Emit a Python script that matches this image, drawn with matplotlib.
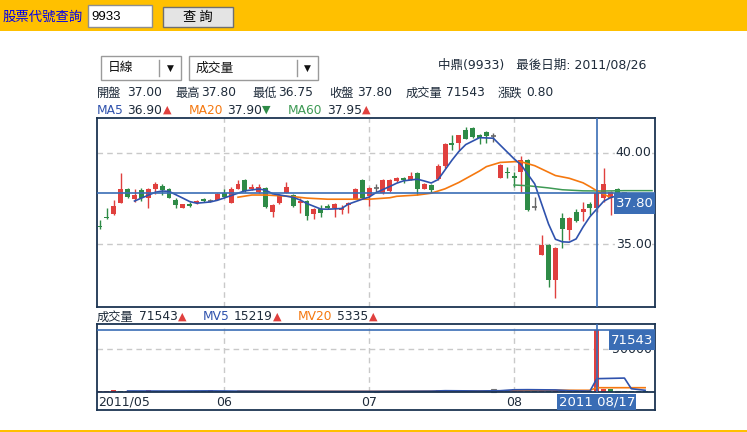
import matplotlib
matplotlib.use("Agg")
import numpy as np
import matplotlib.pyplot as plt
from matplotlib.patches import Rectangle
from matplotlib.transforms import blended_transform_factory as blend

plt.rcParams['font.family'] = ['DejaVu Sans', 'Noto Sans CJK TC']

# ------------------------------------------------------------
# Daily candles, index 0 = first day shown
# ------------------------------------------------------------
opens = [36.00, 36.50, 36.65, 37.25, 38.00, 37.45, 37.95, 37.50, 38.00, 38.20,
         38.00, 37.40, 37.00, 37.20, 37.25, 37.45, 37.35, 37.40, 37.80, 37.25,
         38.00, 38.50, 38.00, 37.85, 38.10, 36.75, 37.25, 37.80, 37.70, 37.25,
         37.35, 36.65, 36.90, 37.10, 37.00, 36.85, 37.15, 37.45, 38.50, 37.65,
         38.10, 37.80, 37.90, 38.45, 38.65, 38.50, 38.90, 38.00, 38.25, 38.55,
         39.30, 40.55, 40.55, 41.25, 41.35, 41.00, 41.15, 40.95, 38.65, 38.95,
         38.75, 38.95, 39.60, 37.05, 34.40, 34.95, 33.00, 36.45, 35.75, 36.75,
         36.75, 37.20, 37.00, 37.55, 37.55, 38.00, 37.80]
highs = [36.30, 37.00, 37.40, 38.90, 38.10, 38.00, 38.05, 38.05, 38.40, 38.30,
         38.10, 37.50, 37.20, 37.30, 37.40, 37.50, 37.45, 37.80, 38.00, 38.15,
         38.50, 38.55, 38.30, 38.30, 38.15, 37.20, 37.75, 38.40, 37.75, 37.50,
         37.40, 36.95, 37.15, 37.20, 37.25, 37.15, 37.30, 38.05, 38.55, 38.15,
         38.30, 38.55, 38.55, 38.70, 38.70, 38.95, 38.95, 38.35, 38.30, 39.40,
         40.55, 41.00, 41.00, 41.45, 41.40, 41.05, 41.20, 41.10, 39.40, 39.25,
         38.95, 39.85, 39.65, 37.60, 35.50, 35.00, 34.85, 36.70, 36.50, 36.90,
         37.30, 37.30, 37.80, 39.15, 37.90, 38.05, 37.85]
lows = [35.85, 36.35, 36.60, 37.25, 37.50, 37.30, 37.35, 37.00, 37.75, 37.70,
        37.50, 37.00, 37.00, 37.05, 37.20, 37.30, 37.30, 37.40, 37.50, 37.25,
        38.00, 37.85, 37.95, 37.80, 37.00, 36.50, 37.20, 37.80, 37.05, 36.70,
        36.30, 36.35, 36.50, 36.90, 36.50, 36.65, 36.70, 37.45, 37.50, 37.10,
        37.85, 37.75, 37.85, 38.40, 38.35, 38.50, 37.70, 38.00, 37.80, 38.50,
        39.15, 40.15, 40.15, 40.75, 40.80, 40.50, 40.55, 40.60, 38.60, 38.60,
        38.15, 37.85, 36.80, 36.85, 34.40, 32.65, 32.05, 34.80, 35.20, 36.20,
        36.25, 36.60, 36.75, 37.30, 36.60, 37.60, 37.70]
closes = [35.95, 36.45, 37.10, 38.00, 37.60, 37.70, 37.55, 38.00, 38.30, 37.95,
          37.55, 37.15, 37.20, 37.10, 37.35, 37.35, 37.35, 37.75, 37.60, 38.00,
          38.30, 37.90, 38.15, 38.15, 37.05, 37.15, 37.70, 38.15, 37.10, 37.35,
          36.55, 36.90, 36.70, 37.00, 37.20, 37.00, 37.25, 38.00, 37.55, 38.10,
          38.10, 38.50, 38.50, 38.65, 38.50, 38.75, 38.00, 38.30, 37.95, 39.30,
          40.50, 40.45, 41.00, 40.75, 40.85, 40.80, 40.95, 40.95, 39.35, 38.90,
          38.60, 39.60, 36.85, 37.05, 34.95, 33.00, 34.80, 35.85, 36.45, 36.25,
          36.90, 37.00, 37.80, 38.30, 37.85, 37.70, 37.80]

# moving averages as drawn (day index, value)
ma5_days = [5, 8, 9, 10, 12, 13, 14, 16, 17, 19, 20, 21, 23, 24, 25, 27, 28, 29,
            30, 32, 33, 35, 36, 38, 39, 40, 42, 43, 44, 46, 47, 48, 49, 51, 52, 53,
            55, 57, 58, 60, 61, 63, 64, 65, 66, 67, 68, 69, 70, 71, 73, 74, 75]
ma5_vals = [37.36, 37.84, 37.91, 37.89, 37.52, 37.33, 37.24, 37.31, 37.40, 37.66,
            37.79, 37.92, 38.02, 37.96, 37.76, 37.63, 37.56, 37.42, 37.22, 36.92,
            36.91, 36.95, 37.19, 37.46, 37.58, 37.82, 38.16, 38.34, 38.47, 38.56,
            38.46, 38.35, 38.54, 39.60, 40.08, 40.46, 40.84, 40.81, 40.43, 39.68,
            39.36, 38.30, 37.20, 36.10, 35.26, 35.12, 35.10, 35.28, 35.93, 36.50,
            37.35, 37.55, 37.65]
ma20_days = [20, 22, 24, 26, 28, 30, 33, 36, 39, 42, 43, 46, 48, 50, 52, 54, 55,
             56, 58, 60, 61, 63, 65, 66, 68, 70, 71, 72, 74]
ma20_vals = [37.57, 37.69, 37.69, 37.65, 37.60, 37.52, 37.46, 37.46, 37.46, 37.54,
             37.62, 37.69, 37.79, 38.03, 38.38, 38.80, 39.01, 39.25, 39.48, 39.52,
             39.52, 39.30, 38.94, 38.76, 38.61, 38.36, 38.15, 37.92, 37.55]
ma60_days = [60, 62, 65, 67, 70, 73, 76, 80]
ma60_vals = [38.24, 38.20, 38.08, 37.98, 37.92, 37.91, 37.93, 37.93]

# volume (lots), direction: 1 up, -1 down, 0 flat
volume = [1100, 1100, 2300, 1000, 800, 700, 600, 2300, 900, 800,
          700, 900, 800, 1000, 700, 600, 2300, 900, 800, 700,
          600, 700, 800, 600, 700, 600, 700, 500, 1000, 600,
          500, 500, 500, 400, 500, 500, 1000, 600, 700, 500,
          600, 500, 500, 600, 500, 600, 500, 600, 1300, 2300,
          800, 800, 700, 600, 600, 500, 700, 3100, 900, 800,
          3500, 3500, 1200, 1000, 900, 1100, 2000, 900, 800, 700,
          900, 900, 71543, 3600, 3600, 1200, 1500, 1500, 1300, 1300]
vol_dir = [1, 1, 1, -1, 1, -1, -1, 1, 1, -1,
           -1, -1, 1, -1, 1, -1, 1, 1, -1, 1,
           1, -1, 1, 1, -1, 1, 1, 1, -1, 1,
           -1, 1, -1, -1, 1, 1, 1, 1, -1, 1,
           0, 1, 1, 1, -1, 1, -1, 1, -1, 1,
           1, -1, 1, -1, -1, -1, -1, 0, 1, -1,
           1, 1, -1, -1, 1, -1, 1, 1, 1, -1,
           1, -1, 1, 1, -1, 0, -1, -1, -1, -1]
mv5_days = [4, 10, 16, 20, 30, 40, 48, 50, 55, 58, 60, 62, 66, 68, 71, 72, 76, 77, 79]
mv5_vals = [1200, 1100, 1300, 1000, 700, 700, 1000, 1500, 1200, 1500, 2600, 2700,
            2400, 1500, 1100, 15500, 16200, 3800, 2000]
mv20_days = [20, 30, 40, 50, 57, 60, 66, 71, 72, 79]
mv20_vals = [900, 800, 700, 900, 1200, 1500, 2000, 2000, 5000, 5000]

month_days = [18, 39, 60]
month_labels = ["06", "07", "08"]
first_label = "2011/05"
price_ticks = [35, 40]
vol_tick = 50000

cross_day = 72
cross_date = "2011 08/17"
info_labels = ["開盤", "最高", "最低", "收盤", "成交量", "漲跌"]
info_values = ["37.00", "37.80", "36.75", "37.80", "71543", "0.80"]
ma_labels = ["MA5", "MA20", "MA60"]
ma_values = ["36.90", "37.90", "37.95"]
ma_marks = ["▲", "▼", "▲"]
mv_labels = ["成交量", "MV5", "MV20"]
mv_values = ["71543", "15219", "5335"]

# ------------------------------------------------------------
# colours / helpers
# ------------------------------------------------------------
RED, GREEN, GRAY = "#E0403E", "#2E8B47", "#666666"
BLUE, ORANGE, MGREEN = "#2F52AD", "#F5780F", "#3E9A55"
XBLUE = "#3A6DB5"
NAVY = "#1B3452"
TXT = "#1E2B3A"
GRID = "#C9C9C9"

W, H = 747, 432
fig = plt.figure(figsize=(W / 100, H / 100), dpi=100)


def fx(px):
    return px / W


def fy(py):
    return 1 - py / H


def rect_ax(l, t, r, b):
    return [fx(l), fy(b), (r - l) / W, (b - t) / H]


def ftext(x, y, s, **kw):
    kw.setdefault("fontsize", 8.8)
    kw.setdefault("color", TXT)
    kw.setdefault("va", "center")
    fig.text(fx(x), fy(y), s, **kw)


def frect(l, t, r, b, **kw):
    fig.patches.append(Rectangle((fx(l), fy(b)), (r - l) / W, (b - t) / H,
                                 transform=fig.transFigure, **kw))


# ------------------------------------------------------------
# page chrome: search bar, dropdowns, header texts
# ------------------------------------------------------------
frect(0, 0, W, 31, fc="#FFC000", ec="none", zorder=0)
frect(0, 430, W, 432, fc="#FFC000", ec="none", zorder=0)
ftext(3, 17, "股票代號查詢", color="#0000EE", fontsize=9.6,
      family=["Noto Sans CJK TC"])
frect(88, 5, 152, 27, fc="white", ec="#8E8E8E", lw=1)
ftext(91, 16.5, "9933", color="black", fontsize=9.5, family=["Liberation Sans"])
frect(163, 7, 233, 27, fc="#E4E4E4", ec="#6F6F6F", lw=1)
ftext(198, 17, "查 詢", color="black", fontsize=9.6, ha="center",
      family=["Noto Sans CJK TC"])

for (l, r, div, txt) in [(101, 181, 159, "日線"), (189, 318, 297, "成交量")]:
    frect(l, 56, r, 80, fc="white", ec="#9A9A9A", lw=1)
    fig.add_artist(plt.Line2D([fx(div), fx(div)], [fy(60), fy(76)],
                              color="#9A9A9A", lw=1))
    ftext(l + 7, 68, txt, color="#111111", fontsize=9.2)
    ftext((div + r) / 2, 68.5, "▼", color="#111111", fontsize=6.5, ha="center")

ftext(438, 65, "中鼎(9933)   最後日期: 2011/08/26", fontsize=9)

for lab, val, xl, xv in zip(info_labels, info_values,
                            [97, 175, 252, 329, 406, 498],
                            [127, 201, 278, 357, 446, 526]):
    ftext(xl, 93, lab)
    ftext(xv, 93, val)

for lab, val, mk, col, xl, xv, xm in zip(ma_labels, ma_values, ma_marks,
                                          [BLUE, ORANGE, MGREEN],
                                          [97, 189, 288], [127, 227, 327],
                                          [163, 262, 362]):
    ftext(xl, 110, lab, color=col)
    ftext(xv, 110, val)
    ftext(xm, 110, mk, color=RED if mk == "▲" else GREEN, fontsize=8)

for lab, val, col, xl, xv, xm in zip(mv_labels, mv_values,
                                      [TXT, BLUE, ORANGE],
                                      [97, 203, 298], [139, 234, 337],
                                      [178, 273, 369]):
    ftext(xl, 317, lab, color=col)
    ftext(xv, 317, val)
    ftext(xm, 317, "▲", color=RED, fontsize=8)

# ------------------------------------------------------------
# price panel
# ------------------------------------------------------------
XLIM = (-0.435, 80.43)
ax = fig.add_axes(rect_ax(97, 118, 655, 307))
ax.set_xlim(*XLIM)
ax.set_ylim(31.54, 41.92)
ax.set_xticks([])
ax.set_yticks([])
for s in ax.spines.values():
    s.set_color(NAVY)
    s.set_linewidth(1.3)

for d in month_days:
    ax.axvline(d, color=GRID, lw=1, ls=(0, (4, 3)), zorder=0)
for p in price_ticks:
    ax.axhline(p, color=GRID, lw=1, ls=(0, (4, 3)), zorder=0)

days = np.arange(len(closes))
for i, o, hi, lo, c in zip(days, opens, highs, lows, closes):
    col = RED if c > o else (GREEN if c < o else GRAY)
    ax.vlines(i, lo, hi, color=col, lw=1, zorder=2)
    if c == o:
        ax.hlines(c, i - 0.36, i + 0.36, color=col, lw=1.2, zorder=2)
    else:
        ax.bar(i, abs(c - o), bottom=min(o, c), width=0.72, color=col,
               lw=0, zorder=2)

ax.plot(ma60_days, ma60_vals, color=MGREEN, lw=1.1, zorder=3)
ax.plot(ma20_days, ma20_vals, color=ORANGE, lw=1.2, zorder=3)
ax.plot(ma5_days, ma5_vals, color=BLUE, lw=1.2, zorder=3)

ax.axhline(closes[cross_day], color=XBLUE, lw=1.2, zorder=4)
ax.axvline(cross_day, color=XBLUE, lw=1.2, zorder=4)

tr = blend(ax.transAxes, ax.transData)
for p in price_ticks:
    ax.text(0.994, p, f"{p:.2f}", transform=tr, ha="right", va="center",
            fontsize=9, color=TXT, zorder=5,
            bbox=dict(fc="white", ec="none", pad=0.5))

ppx = (31.54 - 41.92) / -189.0   # price units per pixel
bw = 41 / 558
ax.add_patch(Rectangle((1 - bw, closes[cross_day] - 21 * ppx), bw, 21 * ppx,
                       transform=tr, fc=XBLUE, ec="none", zorder=6, clip_on=False))
ax.text(1 - bw / 2, closes[cross_day] - 10.5 * ppx, f"{closes[cross_day]:.2f}",
        transform=tr, ha="center", va="center", fontsize=9.5, color="white",
        zorder=7)

# ------------------------------------------------------------
# volume panel
# ------------------------------------------------------------
VTOP, VBOT = 79070, -20930
ax2 = fig.add_axes(rect_ax(97, 324, 655, 410))
ax2.set_xlim(*XLIM)
ax2.set_ylim(VBOT, VTOP)
ax2.set_xticks([])
ax2.set_yticks([])
for s in ax2.spines.values():
    s.set_color(NAVY)
    s.set_linewidth(1.3)

ax2.vlines(month_days, 0, VTOP, color=GRID, lw=1, ls=(0, (4, 3)), zorder=0)
ax2.axhline(vol_tick, color=GRID, lw=1, ls=(0, (4, 3)), zorder=0)

vdays = np.arange(len(volume))
for i, v, dr in zip(vdays, volume, vol_dir):
    if dr == 0:
        ax2.bar(i, v, width=0.72, fc="white", ec="#777777", lw=0.8, zorder=2)
    else:
        ax2.bar(i, v, width=0.72, color=RED if dr > 0 else GREEN, lw=0, zorder=2)

ax2.plot(mv20_days, mv20_vals, color=ORANGE, lw=1.2, zorder=3)
ax2.plot(mv5_days, mv5_vals, color=BLUE, lw=1.2, zorder=3)
ax2.axhline(0, color=NAVY, lw=1.3, zorder=4)

ax2.axhline(volume[cross_day], color=XBLUE, lw=1.2, zorder=4)
ax2.vlines(cross_day, 0, VTOP, color=XBLUE, lw=1.2, zorder=4)

# the 50000 tick label sits mostly hidden under the value tag
tr2 = blend(ax2.transAxes, ax2.transData)
ax2.text(0.994, vol_tick, f"{vol_tick}", transform=tr2, ha="right",
         va="center", fontsize=9, color=TXT, zorder=5)
vpx = (VTOP - VBOT) / 86.0
bw2 = 46 / 558
ax2.add_patch(Rectangle((1 - bw2, volume[cross_day] - 19.5 * vpx), bw2, 19.5 * vpx,
                        transform=tr2, fc=XBLUE, ec="none", zorder=6, clip_on=False))
ax2.text(1 - bw2 / 2, volume[cross_day] - 9.75 * vpx, f"{volume[cross_day]}",
         transform=tr2, ha="center", va="center", fontsize=9.5, color="white",
         zorder=7)

tr3 = blend(ax2.transData, ax2.transAxes)
ax2.text(XLIM[0] + 0.15, 0.09, first_label, transform=tr3, ha="left",
         va="center", fontsize=9, color=TXT)
for d, lab in zip(month_days, month_labels):
    ax2.text(d, 0.09, lab, transform=tr3, ha="center", va="center",
             fontsize=9, color=TXT)
ax2.add_patch(Rectangle((cross_day - 5.73, 0.0), 11.45, 0.186, transform=tr3,
                        fc=XBLUE, ec="none", zorder=6))
ax2.text(cross_day, 0.093, cross_date, transform=tr3, ha="center", va="center",
         fontsize=9.5, color="white", zorder=7)

fig.savefig("out.png", dpi=100)
